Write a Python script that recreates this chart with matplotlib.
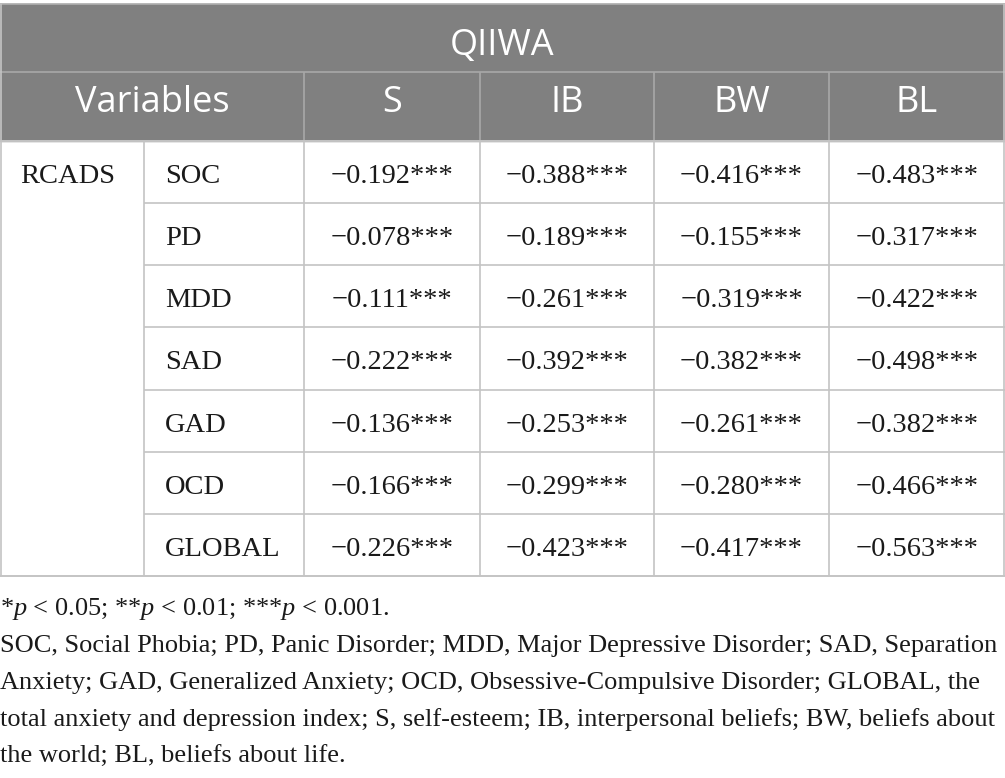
import matplotlib
matplotlib.use("Agg")
import matplotlib.pyplot as plt

plt.rcParams['mathtext.fontset'] = 'custom'
plt.rcParams['mathtext.rm'] = 'Liberation Serif'
plt.rcParams['mathtext.it'] = 'Liberation Serif:italic'

group_title = "QIIWA"
row_group   = "RCADS"
columns     = ["S", "IB", "BW", "BL"]
variables   = ["SOC", "PD", "MDD", "SAD", "GAD", "OCD", "GLOBAL"]

s_vals  = [-0.192, -0.078, -0.111, -0.222, -0.136, -0.166, -0.226]
ib_vals = [-0.388, -0.189, -0.261, -0.392, -0.253, -0.299, -0.423]
bw_vals = [-0.416, -0.155, -0.319, -0.382, -0.261, -0.280, -0.417]
bl_vals = [-0.483, -0.317, -0.422, -0.498, -0.382, -0.466, -0.563]
stars   = ["***"] * 7

footnotes = [
    r"*$p$ < 0.05; **$p$ < 0.01; ***$p$ < 0.001.",
    "SOC, Social Phobia; PD, Panic Disorder; MDD, Major Depressive Disorder; SAD, Separation",
    "Anxiety; GAD, Generalized Anxiety; OCD, Obsessive-Compulsive Disorder; GLOBAL, the",
    "total anxiety and depression index; S, self-esteem; IB, interpersonal beliefs; BW, beliefs about",
    "the world; BL, beliefs about life.",
]

W, H = 1005, 778
fig = plt.figure(figsize=(W / 100, H / 100), dpi=100)
ax  = fig.add_axes([0, 0, 1, 1])
ax.set_xlim(0, W)
ax.set_ylim(H, 0)
ax.axis('off')

header_bg = '#808080'
line_col  = '#c4c4c4'
text_col  = '#1a1a1a'
sans      = 'Open Sans'
serif     = 'Liberation Serif'
head_fs   = 26
body_fs   = 20.5
note_fs   = 19

col_x   = [0, 144, 304, 480, 654, 829, 1005]
top     = 4
h1_bot  = 72
h2_bot  = 141
bottom  = 576
row_h   = (bottom - h2_bot) / len(variables)

# header background
ax.add_patch(plt.Rectangle((0, top), W, h2_bot - top, color=header_bg, zorder=0))

# lines
ax.hlines([top], 0, W, color='#b0b0b0', lw=1.2)
ax.hlines([h1_bot], 0, W, color='#a8a8a8', lw=1.2)
ax.vlines(col_x[2:-1], h1_bot, h2_bot, color='#a8a8a8', lw=1.2)
ax.hlines([h2_bot, bottom], 0, W, color=line_col, lw=1.4)
row_lines = [h2_bot + row_h * (i + 1) for i in range(len(variables) - 1)]
ax.hlines(row_lines, col_x[1], W, color=line_col, lw=1.2)
ax.vlines(col_x[1:-1], h2_bot, bottom, color=line_col, lw=1.2)
ax.vlines([0.6, W - 0.6], top, bottom, color=line_col, lw=1.2)

# header text
ax.text(W / 2, 55, group_title, color='white', fontsize=head_fs, family=sans,
        ha='center', va='baseline')
ax.text((col_x[0] + col_x[2]) / 2, 112, "Variables", color='white', fontsize=head_fs,
        family=sans, ha='center', va='baseline')
for i, c in enumerate(columns):
    ax.text((col_x[i + 2] + col_x[i + 3]) / 2, 112, c, color='white', fontsize=head_fs,
            family=sans, ha='center', va='baseline')

# body
ax.text(20, h2_bot + 42, row_group, color=text_col, fontsize=body_fs, family=serif,
        ha='left', va='baseline')
series = [s_vals, ib_vals, bw_vals, bl_vals]
for r, var in enumerate(variables):
    base = h2_bot + row_h * r + 42
    ax.text(165, base, var, color=text_col, fontsize=body_fs, family=serif,
            ha='left', va='baseline')
    for j, vals in enumerate(series):
        v = vals[r]
        lab = ("\u2212" if v < 0 else "") + f"{abs(v):.3f}" + stars[r]
        ax.text((col_x[j + 2] + col_x[j + 3]) / 2, base, lab, color=text_col,
                fontsize=body_fs, family=serif, ha='center', va='baseline')

# footnotes
for k, line in enumerate(footnotes):
    ax.text(0, 615 + 37 * k, line, color=text_col, fontsize=note_fs, family=serif,
            ha='left', va='baseline')

fig.savefig('out.png', dpi=100, facecolor='white')
